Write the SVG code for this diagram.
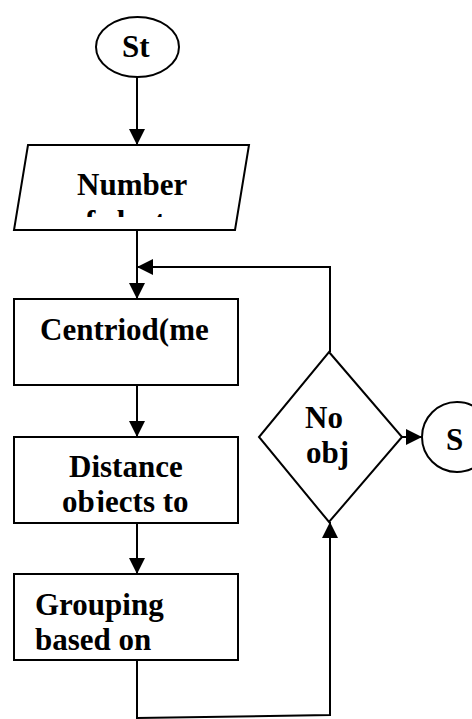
<svg xmlns="http://www.w3.org/2000/svg" width="472" height="719" viewBox="0 0 472 719">
<style>
.s{fill:#fff;stroke:#000;stroke-width:2}
.t{font-weight:bold;font-size:31px;fill:#000}
.c{fill:none;stroke:#000;stroke-width:2}
</style>
<defs>
<marker id="a" markerUnits="userSpaceOnUse" markerWidth="17" markerHeight="16" refX="16" refY="8" orient="auto">
<path d="M0,0 L16,8 L0,16 Z" fill="#000"/>
</marker>
<clipPath id="cp1"><rect x="20" y="147" width="225" height="70"/></clipPath>
<clipPath id="cp2"><rect x="15" y="438" width="222" height="74"/></clipPath>
<clipPath id="cp3"><rect x="15" y="575" width="222" height="75"/></clipPath>
</defs>
<g id="connectors">
<path class="c" d="M137,77 V145" marker-end="url(#a)"/>
<path class="c" d="M137,230 V299" marker-end="url(#a)"/>
<path class="c" d="M330,352 V267 H137" marker-end="url(#a)"/>
<path class="c" d="M137,385 V437" marker-end="url(#a)"/>
<path class="c" d="M137,523 V574" marker-end="url(#a)"/>
<path class="c" d="M137,660 V718 L330,715 V522" marker-end="url(#a)"/>
<path class="c" d="M402,437 H422" marker-end="url(#a)"/>
</g>
<g id="start">
<ellipse class="s" cx="137.5" cy="47" rx="41.5" ry="30"/>
<text class="t" font-family="Liberation Serif" x="122" y="57">St</text>
</g>
<g id="input">
<polygon class="s" points="28,145 249,145 235,230 14,230"/>
<text class="t" font-family="Liberation Serif" x="77" y="195">Number</text>
<g clip-path="url(#cp1)"><text class="t" font-family="Liberation Serif" x="69.5" y="231.5">of clusters</text></g>
</g>
<g id="centroid">
<rect class="s" x="14" y="299" width="224" height="86"/>
<text class="t" font-family="Liberation Serif" x="40" y="340">Centriod(me</text>
</g>
<g id="distance">
<rect class="s" x="14" y="437" width="224" height="86"/>
<text class="t" font-family="Liberation Serif" x="69" y="477">Distance</text>
<g clip-path="url(#cp2)"><text class="t" font-family="Liberation Serif" x="62" y="512">objects to</text></g>
</g>
<g id="grouping">
<rect class="s" x="14" y="574" width="224" height="86"/>
<text class="t" font-family="Liberation Serif" x="35" y="615">Grouping</text>
<g clip-path="url(#cp3)"><text class="t" font-family="Liberation Serif" x="35" y="650">based on</text></g>
</g>
<g id="decision">
<polygon class="s" points="329,352 402,437 329,522 259,437"/>
<text class="t" font-family="Liberation Serif" x="305" y="428">No</text>
<text class="t" font-family="Liberation Serif" x="306" y="463">obj</text>
</g>
<g id="stop">
<circle class="s" cx="457" cy="437" r="35"/>
<text class="t" font-family="Liberation Serif" x="446" y="450">S</text>
</g>
</svg>
